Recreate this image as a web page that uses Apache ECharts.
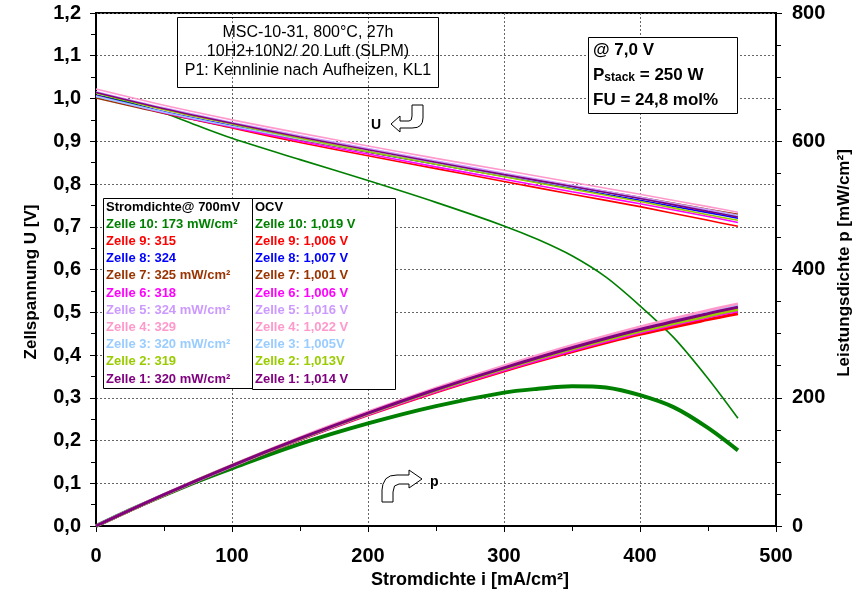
<!DOCTYPE html>
<html>
<head>
<meta charset="utf-8">
<script src="https://cdn.jsdelivr.net/npm/echarts@6/dist/echarts.min.js"></script>
<style>
  html, body { margin: 0; padding: 0; background: #fff; }
  #chart { width: 865px; height: 597px; }
</style>
</head>
<body>
<div id="chart"></div>
<script>
// Current density sample points [mA/cm²]
const current = [0, 50, 100, 150, 200, 250, 300, 350, 400, 450, 472];
const currentZ10 = [0, 25, 50, 75, 100, 150, 200, 250, 300, 325, 350, 375, 400, 425, 450, 472];

// Cell voltage U [V]
const uZ1  = [1.014, 0.976, 0.942, 0.910, 0.880, 0.851, 0.822, 0.794, 0.766, 0.736, 0.723];
const uZ2  = [1.013, 0.974, 0.940, 0.907, 0.876, 0.846, 0.817, 0.788, 0.759, 0.728, 0.715];
const uZ3  = [1.005, 0.968, 0.935, 0.905, 0.876, 0.848, 0.820, 0.793, 0.766, 0.737, 0.725];
const uZ4  = [1.022, 0.984, 0.950, 0.919, 0.889, 0.860, 0.832, 0.804, 0.776, 0.747, 0.734];
const uZ5  = [1.016, 0.978, 0.944, 0.913, 0.883, 0.854, 0.825, 0.797, 0.769, 0.740, 0.727];
const uZ6  = [1.006, 0.967, 0.933, 0.900, 0.870, 0.840, 0.811, 0.782, 0.754, 0.724, 0.710];
const uZ7  = [1.001, 0.965, 0.933, 0.903, 0.875, 0.848, 0.821, 0.795, 0.769, 0.741, 0.729];
const uZ8  = [1.007, 0.969, 0.936, 0.904, 0.875, 0.846, 0.818, 0.790, 0.762, 0.733, 0.720];
const uZ9  = [1.006, 0.966, 0.931, 0.897, 0.866, 0.836, 0.806, 0.776, 0.747, 0.715, 0.701];
const uZ10 = [1.008, 0.990, 0.966, 0.936, 0.907, 0.857, 0.808, 0.757, 0.702, 0.670, 0.632, 0.582, 0.515, 0.440, 0.345, 0.252];

// Power density p [mW/cm²]
const pZ1  = [0, 48.8, 94.2, 136.5, 176.0, 212.8, 246.6, 277.9, 306.4, 331.2, 341.3];
const pZ2  = [0, 48.7, 94.0, 136.1, 175.2, 211.5, 245.1, 275.8, 303.6, 327.6, 337.5];
const pZ3  = [0, 48.4, 93.5, 135.8, 175.2, 212.0, 246.0, 277.6, 306.4, 331.7, 342.2];
const pZ4  = [0, 49.2, 95.0, 137.9, 177.8, 215.0, 249.6, 281.4, 310.4, 336.2, 346.4];
const pZ5  = [0, 48.9, 94.4, 137.0, 176.6, 213.5, 247.5, 279.0, 307.6, 333.0, 343.1];
const pZ6  = [0, 48.4, 93.3, 135.0, 174.0, 210.0, 243.3, 273.7, 301.6, 325.8, 335.1];
const pZ7  = [0, 48.3, 93.3, 135.5, 175.0, 212.0, 246.3, 278.3, 307.6, 333.5, 344.1];
const pZ8  = [0, 48.5, 93.6, 135.6, 175.0, 211.5, 245.4, 276.5, 304.8, 329.9, 339.8];
const pZ9  = [0, 48.3, 93.1, 134.6, 173.2, 209.0, 241.8, 271.6, 298.8, 321.8, 330.9];
const pZ10 = [0, 25, 48, 70, 90, 128, 160, 187, 208, 214, 218, 216, 204, 185, 153, 118];

// Legend table texts
const powerAt700 = ['Zelle 10: 173 mW/cm²', 'Zelle 9: 315', 'Zelle 8: 324', 'Zelle 7: 325 mW/cm²', 'Zelle 6: 318',
                    'Zelle 5: 324 mW/cm²', 'Zelle 4: 329', 'Zelle 3: 320 mW/cm²', 'Zelle 2: 319', 'Zelle 1: 320 mW/cm²'];
const ocv = ['Zelle 10: 1,019 V', 'Zelle 9: 1,006 V', 'Zelle 8: 1,007 V', 'Zelle 7: 1,001 V', 'Zelle 6: 1,006 V',
             'Zelle 5: 1,016 V', 'Zelle 4: 1,022 V', 'Zelle 3: 1,005V', 'Zelle 2: 1,013V', 'Zelle 1: 1,014 V'];

const FONT = "'Liberation Sans', Arial, sans-serif";

// cells in drawing order (Zelle 10 first, Zelle 1 on top)
const cells = [
  { name: 'Zelle 10', color: '#008000', i: currentZ10, u: uZ10, p: pZ10 },
  { name: 'Zelle 9',  color: '#ff0000', i: current, u: uZ9, p: pZ9 },
  { name: 'Zelle 8',  color: '#0000ff', i: current, u: uZ8, p: pZ8 },
  { name: 'Zelle 7',  color: '#993300', i: current, u: uZ7, p: pZ7 },
  { name: 'Zelle 6',  color: '#ff00ff', i: current, u: uZ6, p: pZ6 },
  { name: 'Zelle 5',  color: '#cc99ff', i: current, u: uZ5, p: pZ5 },
  { name: 'Zelle 4',  color: '#ff99cc', i: current, u: uZ4, p: pZ4 },
  { name: 'Zelle 3',  color: '#99ccff', i: current, u: uZ3, p: pZ3 },
  { name: 'Zelle 2',  color: '#99cc00', i: current, u: uZ2, p: pZ2 },
  { name: 'Zelle 1',  color: '#800080', i: current, u: uZ1, p: pZ1 }
];

const series = [];
cells.forEach(c => {
  series.push({
    name: c.name + ' U', type: 'line', yAxisIndex: 0, smooth: 0.3, showSymbol: false,
    lineStyle: { color: c.color, width: 1.6 }, itemStyle: { color: c.color },
    data: c.i.map((x, k) => [x, c.u[k]]), z: 3
  });
});
cells.forEach(c => {
  const isZ10 = c.name === 'Zelle 10';
  series.push({
    name: c.name + ' p', type: 'line', yAxisIndex: 1, smooth: 0.3, showSymbol: false,
    lineStyle: { color: c.color, width: isZ10 ? 4 : 3 }, itemStyle: { color: c.color },
    data: c.i.map((x, k) => [x, c.p[k]]), z: 3
  });
});

const colorsLegend = cells.map(c => c.color);

const graphics = [];
// Axis titles
graphics.push({ type: 'text', x: 470, y: 580,
  style: { text: 'Stromdichte i [mA/cm²]', font: 'bold 18px ' + FONT, fill: '#000', align: 'center', verticalAlign: 'middle' }, z: 11 });
graphics.push({ type: 'text', x: 31, y: 282, rotation: Math.PI / 2,
  style: { text: 'Zellspannung U [V]', font: 'bold 17px ' + FONT, fill: '#000', align: 'center', verticalAlign: 'middle' }, z: 11 });
graphics.push({ type: 'text', x: 844, y: 263, rotation: Math.PI / 2,
  style: { text: 'Leistungsdichte p [mW/cm²]', font: 'bold 17px ' + FONT, fill: '#000', align: 'center', verticalAlign: 'middle' }, z: 11 });

// Header box (transparent)
graphics.push({ type: 'rect', shape: { x: 177.5, y: 17.5, width: 261, height: 70 },
  style: { fill: 'rgba(0,0,0,0)', stroke: '#000', lineWidth: 1 }, z: 10 });
['MSC-10-31, 800°C, 27h', '10H2+10N2/ 20 Luft (SLPM)', 'P1: Kennlinie nach Aufheizen, KL1'].forEach((t, k) => {
  graphics.push({ type: 'text', x: 308, y: 33 + k * 18.7,
    style: { text: t, font: '16px ' + FONT, fill: '#000', align: 'center', verticalAlign: 'middle' }, z: 11 });
});
// Operating point box
graphics.push({ type: 'rect', shape: { x: 588.5, y: 37.5, width: 149, height: 76 },
  style: { fill: '#fff', stroke: '#000', lineWidth: 1 }, z: 10 });
graphics.push({ type: 'text', x: 593, y: 50,
  style: { text: '@ 7,0 V', font: 'bold 17px ' + FONT, fill: '#000', verticalAlign: 'middle' }, z: 11 });
graphics.push({ type: 'text', x: 593, y: 75,
  style: { text: '{a|P}{b|stack}{a| = 250 W}', verticalAlign: 'middle',
    rich: { a: { font: 'bold 17px ' + FONT, fill: '#000' }, b: { font: 'bold 12px ' + FONT, fill: '#000', padding: [5, 0, 0, 0] } } }, z: 11 });
graphics.push({ type: 'text', x: 593, y: 100,
  style: { text: 'FU = 24,8 mol%', font: 'bold 17px ' + FONT, fill: '#000', verticalAlign: 'middle' }, z: 11 });

// Legend table
graphics.push({ type: 'rect', shape: { x: 103.5, y: 198.5, width: 149, height: 190 },
  style: { fill: '#fff', stroke: '#000', lineWidth: 1 }, z: 10 });
graphics.push({ type: 'rect', shape: { x: 252.5, y: 198.5, width: 143, height: 191 },
  style: { fill: '#fff', stroke: '#000', lineWidth: 1 }, z: 10 });
graphics.push({ type: 'text', x: 106, y: 207,
  style: { text: 'Stromdichte@ 700mV', font: 'bold 13px ' + FONT, fill: '#000', verticalAlign: 'middle' }, z: 11 });
graphics.push({ type: 'text', x: 255, y: 207,
  style: { text: 'OCV', font: 'bold 13px ' + FONT, fill: '#000', verticalAlign: 'middle' }, z: 11 });
powerAt700.forEach((t, k) => {
  graphics.push({ type: 'text', x: 106, y: 224.3 + k * 17.2,
    style: { text: t, font: 'bold 13px ' + FONT, fill: colorsLegend[k], verticalAlign: 'middle' }, z: 11 });
  graphics.push({ type: 'text', x: 255, y: 224.3 + k * 17.2,
    style: { text: ocv[k], font: 'bold 13px ' + FONT, fill: colorsLegend[k], verticalAlign: 'middle' }, z: 11 });
});

// Curve markers: U arrow and p arrow
graphics.push({ type: 'polygon',
  shape: { points: [[412,105],[423,105],[423,118],[422.3,122.4],[420.3,125.5],[417.2,127.4],[412,128],[400,128],[400,132],[391,124],[400,116],[400,121],[409,121],[411.3,119.8],[412,116]] },
  style: { fill: '#fff', stroke: '#000', lineWidth: 1 }, z: 11 });
graphics.push({ type: 'text', x: 371, y: 125,
  style: { text: 'U', font: 'bold 14px ' + FONT, fill: '#000', verticalAlign: 'middle' }, z: 11 });
graphics.push({ type: 'polygon',
  shape: { points: [[382,502],[382,490],[382.9,484.4],[385.8,478.8],[390.4,475.9],[397,475],[409,475],[409,470],[422,479],[409,488],[409,484],[399,484],[394.5,486],[393,492],[393,502]] },
  style: { fill: '#fff', stroke: '#000', lineWidth: 1 }, z: 11 });
graphics.push({ type: 'text', x: 430, y: 482,
  style: { text: 'p', font: 'bold 14px ' + FONT, fill: '#000', verticalAlign: 'middle' }, z: 11 });

const comma = v => String(v).replace('.', ',');

const chart = echarts.init(document.getElementById('chart'), null, { renderer: 'canvas' });
chart.setOption({
  animation: false,
  backgroundColor: '#fff',
  textStyle: { fontFamily: FONT },
  grid: { left: 96, right: 89, top: 13, bottom: 71, show: true, borderColor: '#000', borderWidth: 2 },
  xAxis: {
    type: 'value', min: 0, max: 500, interval: 100,
    axisLine: { show: true, lineStyle: { color: '#000', width: 2 } },
    axisTick: { show: true, length: 6, lineStyle: { color: '#000', width: 1 } },
    minorTick: { show: true, splitNumber: 2, length: 5, lineStyle: { color: '#000', width: 1 } },
    axisLabel: { fontFamily: FONT, fontWeight: 'bold', fontSize: 20, color: '#000', margin: 20 },
    splitLine: { show: true, lineStyle: { color: '#666', type: [2, 2], width: 1 } }
  },
  yAxis: [
    {
      type: 'value', min: 0, max: 1.2, interval: 0.1, position: 'left',
      axisLine: { show: true, lineStyle: { color: '#000', width: 2 } },
      axisTick: { show: true, length: 6, lineStyle: { color: '#000', width: 1 } },
      minorTick: { show: true, splitNumber: 2, length: 5, lineStyle: { color: '#000', width: 1 } },
      axisLabel: { fontFamily: FONT, fontWeight: 'bold', fontSize: 20, color: '#000', margin: 15,
        formatter: v => comma(v.toFixed(1)) },
      splitLine: { show: true, lineStyle: { color: '#666', type: [2, 2], width: 1 } }
    },
    {
      type: 'value', min: 0, max: 800, interval: 200, position: 'right',
      axisLine: { show: true, lineStyle: { color: '#000', width: 2 } },
      axisTick: { show: true, length: 6, lineStyle: { color: '#000', width: 1 } },
      minorTick: { show: true, splitNumber: 4, length: 5, lineStyle: { color: '#000', width: 1 } },
      axisLabel: { fontFamily: FONT, fontWeight: 'bold', fontSize: 20, color: '#000', margin: 16 },
      splitLine: { show: false }
    }
  ],
  series: series,
  graphic: graphics
});
</script>
</body>
</html>
